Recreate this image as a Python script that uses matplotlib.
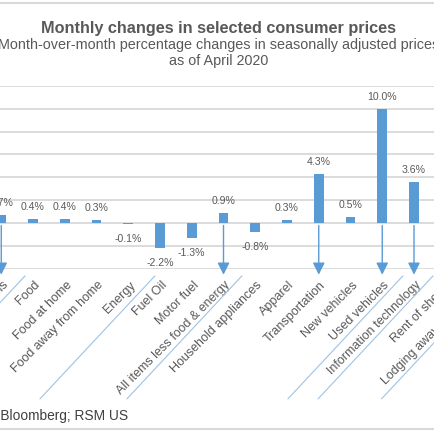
import matplotlib
matplotlib.use('Agg')
from matplotlib import pyplot as plt
from matplotlib import transforms
from matplotlib.lines import Line2D

plt.rcParams['font.family'] = ['Liberation Sans', 'DejaVu Sans']

categories = ["All items", "Food", "Food at home", "Food away from home", "Energy",
              "Fuel Oil", "Motor fuel", "All items less food & energy",
              "Household appliances", "Apparel", "Transportation", "New vehicles",
              "Used vehicles", "Information technology", "Rent of shelter",
              "Lodging away from home", "Medical care"]
changes = [0.7, 0.4, 0.4, 0.3, -0.1, -2.2, -1.3, 0.9, -0.8, 0.3, 4.3, 0.5,
           10.0, 3.6, 0.4, -1.0, 0.5]
arrow_cats = [0, 7, 10, 12, 13]          # categories with a drop arrow
separators = [0.75, 4.84, 7.58, 12.65, 13.6, 15.6]   # diagonal group lines

BLUE = '#5B9BD5'
GREY = '#595959'
GRID = '#D9D9D9'

fig = plt.figure(figsize=(4.35, 4.35), dpi=100)
W = 435.0
STEP = 31.75     # px between categories
X0 = 1.25        # px of the first category


def px(dx, dy):
    # shift in pixels (dpi 100)
    return transforms.ScaledTranslation(dx / 100, dy / 100, fig.dpi_scale_trans)


# the chart is a crop: plot area runs across the whole width
ax = fig.add_axes([0, 1 - 270 / W, 1, (270 - 86.7) / W])
ax.set_xlim(-X0 / STEP, (W - X0) / STEP)
ax.set_ylim(-4, 12)
ax.set_yticks(range(-4, 13, 2))
ax.yaxis.grid(True, color=GRID, lw=1.3)
ax.set_axisbelow(True)
for s in ax.spines.values():
    s.set_visible(False)
ax.set_xticks([])
ax.tick_params(axis='y', left=False, labelleft=False)

x = list(range(len(categories)))
ax.bar(x, changes, width=0.31, color=BLUE, zorder=2)

# category labels, drawn by hand so the cut ones at the right edge still show
xax = transforms.blended_transform_factory(ax.transData, ax.transAxes)
for i, name in enumerate(categories):
    ax.text(i, 0, name, transform=xax + px(1, -9), rotation=45, ha='right', va='top',
            rotation_mode='anchor', fontsize=9, color=GREY)

for i, v in enumerate(changes):
    off = 13 if v >= 0 else -14
    ax.text(i, v, f"{v:.1f}%", transform=ax.transData + px(0, off), ha='center',
            va='center', fontsize=7.6, color=GREY)

for i in arrow_cats:
    ax.annotate('', xy=(i, -4.5), xytext=(i, -0.2), annotation_clip=False,
                arrowprops=dict(arrowstyle='-|>,head_length=0.72,head_width=0.36',
                                color=BLUE, lw=1, mutation_scale=10, shrinkA=0, shrinkB=0))

for p in separators:
    ax.annotate('', xy=(p, -4.6), xytext=(-115, -123), textcoords='offset pixels',
                annotation_clip=False,
                arrowprops=dict(arrowstyle='-', color='#9DC3E6', lw=0.8,
                                shrinkA=0, shrinkB=0))

fig.text(0.502, 1 - 28 / W, "Monthly changes in selected consumer prices",
         ha='center', va='center', fontsize=11.7, fontweight='bold', color=GREY)
fig.text(0.502, 1 - 53.3 / W,
         "Month-over-month percentage changes in seasonally adjusted prices\nas of April 2020",
         ha='center', va='center', fontsize=10.4, color=GREY, linespacing=1.16)
fig.text(128 / W, 1 - 416 / W, "Source: Bloomberg; RSM US", ha='right', va='center',
         fontsize=9.9, color='#404040')

# chart border, only its top and bottom edges fall inside the crop
for yb in (4, 430):
    fig.add_artist(Line2D([0, 1], [1 - yb / W] * 2, transform=fig.transFigure,
                          color=GRID, lw=1.5))

fig.savefig('out.png', dpi=100)
